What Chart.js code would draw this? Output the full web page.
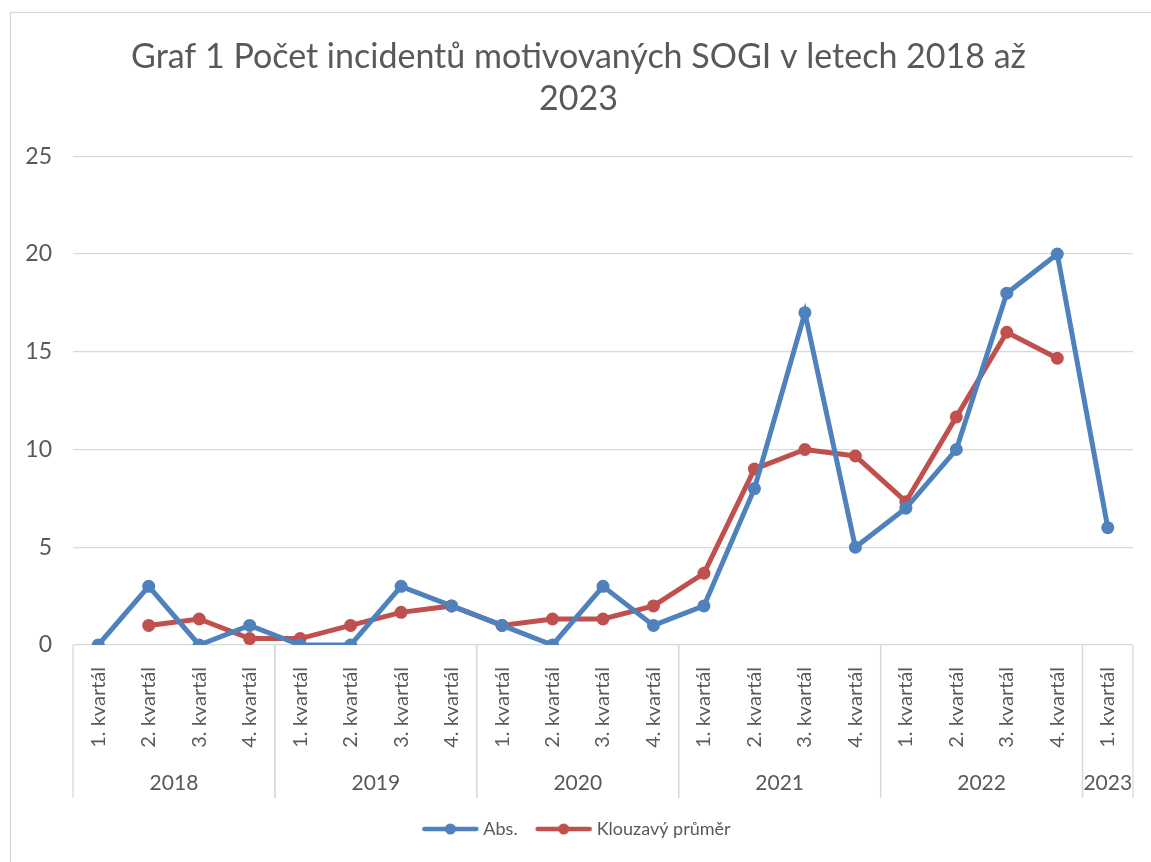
<!DOCTYPE html>
<html lang="cs">
<head>
<meta charset="UTF-8">
<title>Graf 1</title>
<script src="https://cdn.jsdelivr.net/npm/chart.js"></script>
<style>
  body { margin: 0; background: #fff; }
  #wrap { width: 1151px; height: 862px; }
</style>
</head>
<body>
<div id="wrap"><canvas id="chart" width="1151" height="862"></canvas></div>
<script>
// data
const quarters = ['1. kvartál', '2. kvartál', '3. kvartál', '4. kvartál',
                  '1. kvartál', '2. kvartál', '3. kvartál', '4. kvartál',
                  '1. kvartál', '2. kvartál', '3. kvartál', '4. kvartál',
                  '1. kvartál', '2. kvartál', '3. kvartál', '4. kvartál',
                  '1. kvartál', '2. kvartál', '3. kvartál', '4. kvartál',
                  '1. kvartál'];
const years = ['2018', '2019', '2020', '2021', '2022', '2023'];
const quartersPerYear = [4, 4, 4, 4, 4, 1];
const absValues = [0, 3, 0, 1, 0, 0, 3, 2, 1, 0, 3, 1, 2, 8, 17, 5, 7, 10, 18, 20, 6];
const movingAvg = [null, 1, 1.33, 0.33, 0.33, 1, 1.67, 2, 1, 1.33, 1.33, 2, 3.67, 9, 10, 9.67, 7.33, 11.67, 16, 14.67, null];

const blue = '#4f81bd';
const red = '#c0504d';
const textColor = '#595959';
const gridColor = '#d9d9d9';
const fontFamily = 'Lato, "Liberation Sans", sans-serif';

// legend marker: short line with a dot in the middle
function legendMarker(color) {
    const c = document.createElement('canvas');
    c.width = 58; c.height = 14;
    const g = c.getContext('2d');
    g.strokeStyle = color;
    g.lineWidth = 4.5;
    g.lineCap = 'round';
    g.beginPath(); g.moveTo(3, 7); g.lineTo(55, 7); g.stroke();
    g.fillStyle = color;
    g.beginPath(); g.arc(29, 7, 5.5, 0, Math.PI * 2); g.fill();
    return c;
}

// chart border, group separators and year labels
const groupAxis = {
    id: 'groupAxis',
    beforeDraw(chart) {
        const ctx = chart.ctx;
        ctx.save();
        ctx.strokeStyle = gridColor;
        ctx.lineWidth = 1.3;
        ctx.strokeRect(10.5, 12.5, 1160, 900);
        ctx.restore();
    },
    afterDraw(chart) {
        const x = chart.scales.x;
        const area = chart.chartArea;
        const ctx = chart.ctx;
        const bottom = x.bottom;
        const step = x.getPixelForValue(1) - x.getPixelForValue(0);
        ctx.save();
        ctx.strokeStyle = gridColor;
        ctx.lineWidth = 1.3;
        ctx.fillStyle = textColor;
        ctx.font = '21px ' + fontFamily;
        ctx.textAlign = 'center';
        ctx.textBaseline = 'middle';
        let idx = 0;
        years.forEach((yr, i) => {
            const left = x.getPixelForValue(idx) - step / 2;
            const right = x.getPixelForValue(idx + quartersPerYear[i] - 1) + step / 2;
            ctx.beginPath();
            ctx.moveTo(left, area.bottom); ctx.lineTo(left, bottom);
            ctx.moveTo(right, area.bottom); ctx.lineTo(right, bottom);
            ctx.stroke();
            ctx.fillText(yr, (left + right) / 2, bottom - 15);
            idx += quartersPerYear[i];
        });
        ctx.restore();
    }
};

new Chart(document.getElementById('chart'), {
    type: 'line',
    data: {
        labels: quarters,
        datasets: [{
            label: 'Abs.',
            data: absValues,
            borderColor: blue,
            backgroundColor: blue,
            borderWidth: 5,
            pointRadius: 6.5,
            pointHoverRadius: 6.5,
            pointBorderWidth: 0,
            tension: 0
        }, {
            label: 'Klouzavý průměr',
            data: movingAvg,
            borderColor: red,
            backgroundColor: red,
            borderWidth: 5,
            pointRadius: 6.5,
            pointHoverRadius: 6.5,
            pointBorderWidth: 0,
            tension: 0
        }]
    },
    options: {
        responsive: false,
        animation: false,
        layout: { padding: { top: 36, left: 24, right: 18, bottom: 14 } },
        scales: {
            y: {
                min: 0,
                max: 25,
                ticks: {
                    stepSize: 5,
                    color: textColor,
                    padding: 21,
                    font: { family: fontFamily, size: 23 }
                },
                grid: { color: gridColor, lineWidth: 1.3, drawTicks: false },
                border: { display: false },
                afterFit(scale) { scale.width = 49; }
            },
            x: {
                offset: true,
                ticks: {
                    color: textColor,
                    minRotation: 90,
                    maxRotation: 90,
                    padding: 14,
                    autoSkip: false,
                    font: { family: fontFamily, size: 20 }
                },
                grid: { display: false },
                border: { display: false },
                afterFit(scale) { scale.height = 153; }
            }
        },
        plugins: {
            title: {
                display: true,
                text: ['Graf 1 Počet incidentů motivovaných SOGI v letech 2018 až', '2023'],
                color: textColor,
                font: { family: fontFamily, size: 34, weight: 'normal', lineHeight: 1.24 },
                padding: { top: 0, bottom: 36 }
            },
            legend: {
                position: 'bottom',
                labels: {
                    color: textColor,
                    usePointStyle: true,
                    pointStyleWidth: 48,
                    font: { family: fontFamily, size: 18 },
                    padding: 22,
                    generateLabels(chart) {
                        return chart.data.datasets.map((ds, i) => ({
                            text: ds.label,
                            fontColor: textColor,
                            pointStyle: legendMarker(ds.borderColor),
                            datasetIndex: i,
                            hidden: false,
                            lineWidth: 0
                        }));
                    }
                }
            },
            tooltip: { enabled: false }
        }
    },
    plugins: [groupAxis]
});
</script>
</body>
</html>
